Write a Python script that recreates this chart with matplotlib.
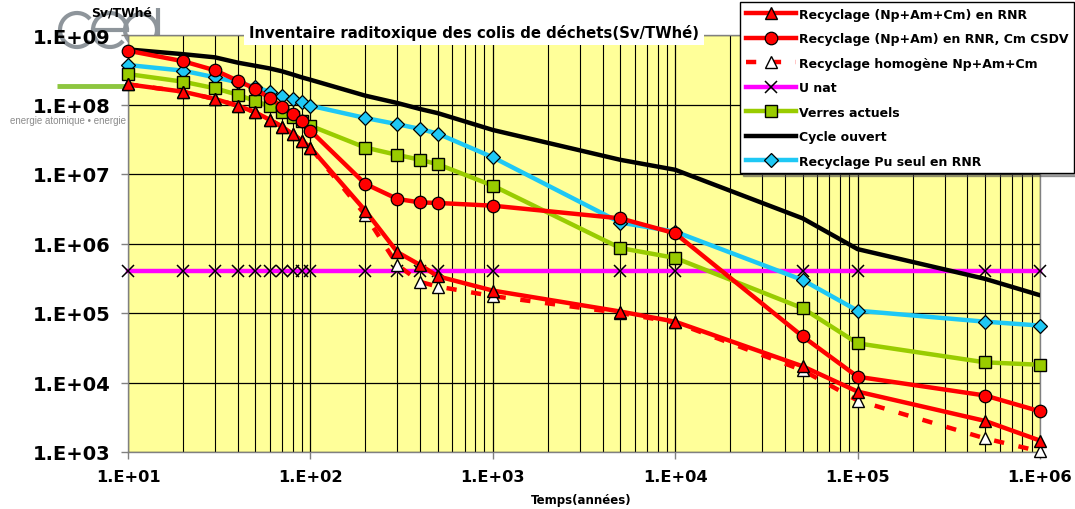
import matplotlib
matplotlib.use("Agg")
import matplotlib.pyplot as plt
from matplotlib.patches import Arc
from matplotlib.ticker import FixedLocator, NullFormatter, LogLocator

plt.rcParams['font.family'] = ['DejaVu Sans']

times = [10, 20, 30, 40, 50, 60, 70, 80, 90, 100, 200, 300, 400, 500,
         1000, 5000, 10000, 50000, 100000, 500000, 1000000]

rec_npamcm = [1.95e8, 1.53e8, 1.2e8, 9.6e7, 7.7e7, 6.0e7, 4.8e7, 3.75e7, 3.0e7, 2.4e7,
              2.97e6, 7.5e5, 4.9e5, 3.37e5, 2.1e5, 1.05e5, 7.5e4, 1.71e4, 7.4e3, 2.8e3, 1.46e3]
rec_npam_cm = [5.95e8, 4.2e8, 3.1e8, 2.2e8, 1.67e8, 1.23e8, 9.3e7, 7.3e7, 5.85e7, 4.2e7,
               7.2e6, 4.37e6, 3.9e6, 3.83e6, 3.5e6, 2.3e6, 1.4e6, 4.6e4, 1.21e4, 6.5e3, 3.85e3]
rec_homog = [1.95e8, 1.53e8, 1.2e8, 9.6e7, 7.7e7, 6.0e7, 4.8e7, 3.75e7, 3.0e7, 2.4e7,
             2.57e6, 4.9e5, 2.8e5, 2.4e5, 1.75e5, 1.0e5, 7.3e4, 1.5e4, 5.5e3, 1.57e3, 1.02e3]
u_nat = [4.0e5] * 21
verres = [2.74e8, 2.13e8, 1.71e8, 1.38e8, 1.12e8, 9.4e7, 7.9e7, 6.7e7, 5.7e7, 4.95e7,
          2.4e7, 1.88e7, 1.6e7, 1.38e7, 6.8e6, 8.6e5, 6.2e5, 1.17e5, 3.66e4, 1.95e4, 1.8e4]
cycle_ouvert = [6.2e8, 5.3e8, 4.77e8, 4.0e8, 3.6e8, 3.3e8, 3.0e8, 2.7e8, 2.45e8, 2.27e8,
                1.34e8, 1.05e8, 8.6e7, 7.5e7, 4.3e7, 1.6e7, 1.15e7, 2.3e6, 8.3e5, 3.1e5, 1.8e5]
rec_pu = [3.7e8, 3.07e8, 2.46e8, 2.09e8, 1.77e8, 1.53e8, 1.34e8, 1.19e8, 1.1e8, 9.6e7,
          6.4e7, 5.2e7, 4.45e7, 3.8e7, 1.74e7, 2.0e6, 1.48e6, 2.98e5, 1.08e5, 7.5e4, 6.6e4]

x_ticks = [1e1, 1e2, 1e3, 1e4, 1e5, 1e6]
x_labels = ["1.E+01", "1.E+02", "1.E+03", "1.E+04", "1.E+05", "1.E+06"]
y_ticks = [1e3, 1e4, 1e5, 1e6, 1e7, 1e8, 1e9]
y_labels = ["1.E+03", "1.E+04", "1.E+05", "1.E+06", "1.E+07", "1.E+08", "1.E+09"]

labels = ["Recyclage (Np+Am+Cm) en RNR", "Recyclage (Np+Am) en RNR, Cm CSDV",
          "Recyclage homogène Np+Am+Cm", "U nat", "Verres actuels",
          "Cycle ouvert", "Recyclage Pu seul en RNR"]

W, H = 1075, 510
fig = plt.figure(figsize=(W / 100, H / 100), dpi=100)

# background decoration layer (pixel coordinates), behind the plot
bg = fig.add_axes([0, 0, 1, 1], zorder=-1)
bg.set_xlim(0, W)
bg.set_ylim(H, 0)
bg.axis('off')
logo_col = '#8e959b'
bg.add_patch(Arc((77, 31), 34, 34, theta1=40, theta2=320, color=logo_col, lw=3))
bg.add_patch(Arc((110, 31), 34, 34, theta1=40, theta2=360, color=logo_col, lw=3))
bg.plot([93, 127], [31, 31], color=logo_col, lw=3)
bg.add_patch(Arc((141, 31), 32, 32, theta1=0, theta2=360, color=logo_col, lw=3))
bg.plot([158, 158], [9, 48], color=logo_col, lw=3, solid_capstyle='butt')
bg.plot([57, 130], [87, 87], color='#8dc63f', lw=3.5, solid_capstyle='butt')
bg.text(10, 121, "energie atomique • energie", fontsize=7, color='#8c8c8c',
        ha='left', va='center', family='Liberation Sans')

ax = fig.add_axes([128 / W, 1 - 453 / H, (1040 - 128) / W, (453 - 36) / H], zorder=0)
ax.set_facecolor('#ffff99')
ax.set_xscale('log')
ax.set_yscale('log')
ax.set_xlim(1e1, 1e6)
ax.set_ylim(1e3, 1e9)

# grid
ax.xaxis.set_major_locator(FixedLocator(x_ticks))
ax.xaxis.set_minor_locator(LogLocator(base=10, subs=range(2, 10)))
ax.xaxis.set_minor_formatter(NullFormatter())
ax.yaxis.set_major_locator(FixedLocator(y_ticks))
ax.yaxis.set_minor_locator(FixedLocator([]))
ax.grid(True, which='major', axis='both', color='black', lw=0.9)
ax.grid(True, which='minor', axis='x', color='black', lw=0.8)
ax.set_axisbelow(True)
ax.set_xticklabels(x_labels, fontsize=11.7, fontweight='bold')
ax.set_yticklabels(y_labels, fontsize=14, fontweight='bold')
ax.tick_params(axis='both', which='major', length=5, width=1, color='#808080')
ax.tick_params(axis='y', which='major', pad=7.5)
ax.tick_params(axis='x', which='major', pad=7)
ax.tick_params(axis='x', which='minor', length=0)
for s in ax.spines.values():
    s.set_color('#808080')
    s.set_linewidth(1)

lw = 3.2
ms = 8.5
ax.plot(times, u_nat, color='#ff00ff', lw=lw, marker='x', ms=8, mec='black', mew=1.1,
        clip_on=False, zorder=3, label=labels[3])
ax.plot(times, cycle_ouvert, color='black', lw=lw, zorder=3, label=labels[5])
ax.plot(times, rec_pu, color='#1ec8f5', lw=lw, marker='D', ms=7, mfc='#1ec8f5', mec='black',
        mew=0.9, clip_on=False, zorder=4, label=labels[6])
ax.plot(times, verres, color='#99cc00', lw=lw, marker='s', ms=9, mfc='#99cc00', mec='black',
        mew=1.0, clip_on=False, zorder=4, label=labels[4])
ax.plot(times, rec_homog, color='#ff0000', lw=lw, ls=(0, (2.3, 3.3)), marker='^', ms=ms,
        mfc='white', mec='black', mew=1.0, clip_on=False, zorder=5, label=labels[2])
ax.plot(times, rec_npam_cm, color='#ff0000', lw=lw, marker='o', ms=ms + 0.5, mfc='#ff0000',
        mec='black', mew=0.9, clip_on=False, zorder=5, label=labels[1])
ax.plot(times, rec_npamcm, color='#ff0000', lw=lw, marker='^', ms=ms, mfc='#ff0000',
        mec='black', mew=1.0, clip_on=False, zorder=6, label=labels[0])

fig.text(122 / W, 1 - 13 / H, "Sv/TWhé", fontsize=8.9, fontweight='bold', ha='center',
         va='center', zorder=10)

# title
fig.text(474 / W, 1 - 33 / H, "Inventaire raditoxique des colis de déchets(Sv/TWhé)",
         fontsize=10.7, fontweight='bold', ha='center', va='center', zorder=10,
         bbox=dict(facecolor='white', edgecolor='none', pad=3.5))
fig.text(581 / W, 1 - 501 / H, "Temps(années)", fontsize=8.5, fontweight='bold',
         ha='center', va='center')

# legend
handles, labs = ax.get_legend_handles_labels()
hl = [None] * 7
for h, l in zip(handles, labs):
    hl[labels.index(l)] = h
leg = fig.legend(hl, labels, loc='upper left', bbox_to_anchor=(740 / W, 1 - 3 / H),
                 prop=dict(family=['DejaVu Sans'], weight='bold', size=9),
                 frameon=True, fancybox=False, shadow=True, edgecolor='black',
                 facecolor='white', framealpha=1, handlelength=4.0, handletextpad=0.25,
                 labelspacing=0.92, borderpad=0.45, borderaxespad=0, numpoints=1)
leg.get_frame().set_linewidth(1.0)
leg.set_zorder(20)

fig.savefig("out.png", dpi=100)
